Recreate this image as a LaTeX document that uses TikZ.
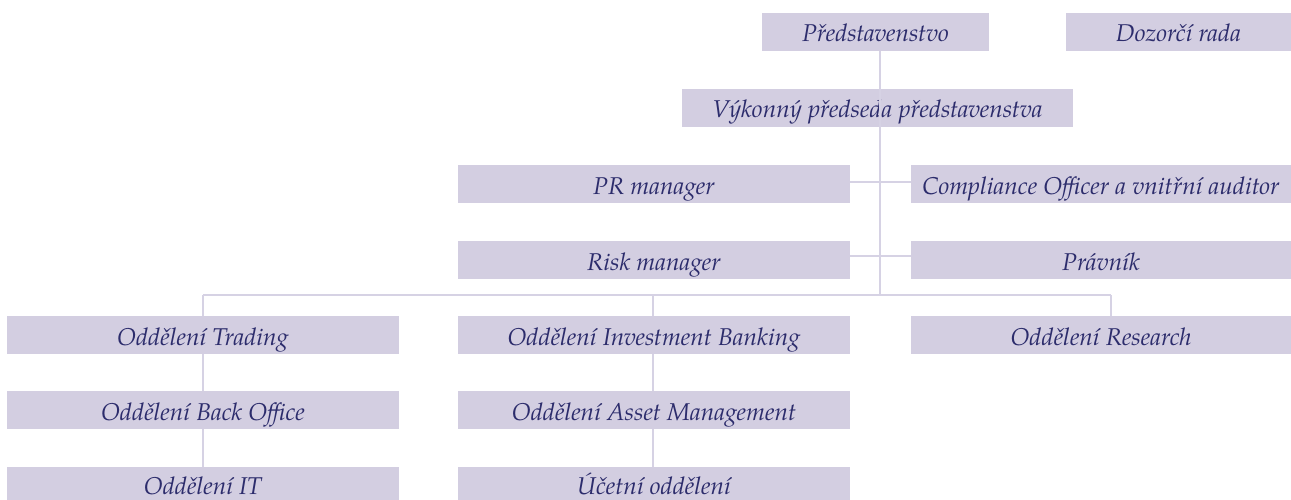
\documentclass[tikz,border=0pt]{standalone}
\usepackage{fontspec}
\setmainfont{TeX Gyre Pagella}
\definecolor{boxfill}{HTML}{D3CEE1}
\definecolor{linecol}{HTML}{D6D2E4}
\definecolor{txt}{HTML}{2C2C6C}
\begin{document}
\begin{tikzpicture}[x=1pt,y=-1pt,
  box/.style={fill=boxfill,draw=none,minimum height=38pt,inner sep=0pt,text height=20pt,text depth=0pt,text=txt,font=\fontsize{24.3}{27}\selectfont\itshape},
  lastrow/.style={minimum height=33pt,text height=21pt,text depth=0pt},
  wide/.style={minimum width=392pt},
  wider/.style={minimum width=380pt},
  conn/.style={draw=linecol,line width=2pt}]
\useasboundingbox (0,0) rectangle (1291,500);
\node[box,minimum width=227pt] (pred) at (875.5,32) {Představenstvo};
\node[box,minimum width=225pt] (dozor) at (1178.5,32) {Dozorčí rada};
\node[box,minimum width=391pt] (vyk) at (877.5,108) {Výkonný předseda představenstva};
\node[box,wide] (pr) at (654,184) {PR manager};
\node[box,wider] (comp) at (1101,184) {Compliance Officer a vnitřní auditor};
\node[box,wide] (risk) at (654,260) {Risk manager};
\node[box,wider] (prav) at (1101,260) {Právník};
\node[box,wide] (trad) at (203,335) {Oddělení Trading};
\node[box,wide] (back) at (203,410) {Oddělení Back Office};
\node[box,wide,lastrow] (it) at (203,483.5) {Oddělení IT};
\node[box,wide] (ib) at (654,335) {Oddělení Investment Banking};
\node[box,wide] (am) at (654,410) {Oddělení Asset Management};
\node[box,wide,lastrow] (uc) at (654,483.5) {Účetní oddělení};
\node[box,wider] (res) at (1101,335) {Oddělení Research};
\coordinate (bt) at (880,295);
\coordinate (bl) at (203,295);
\coordinate (bm) at (653,295);
\coordinate (br) at (1111,295);
\coordinate (top) at (880,51);
\draw[conn] (top) -- (bt);
\draw[conn] (pr.east |- 0,182) -- (comp.west |- 0,182);
\draw[conn] (risk.east |- 0,256) -- (prav.west |- 0,256);
\draw[conn] (bl) -- (br);
\draw[conn] (bl) -- (trad.north -| bl);
\draw[conn] (bm) -- (ib.north -| bm);
\draw[conn] (br) -- (res.north -| br);
\draw[conn] (trad.south -| bl) -- (back.north -| bl);
\draw[conn] (back.south -| bl) -- (it.north -| bl);
\draw[conn] (ib.south -| bm) -- (am.north -| bm);
\draw[conn] (am.south -| bm) -- (uc.north -| bm);
\end{tikzpicture}
\end{document}
